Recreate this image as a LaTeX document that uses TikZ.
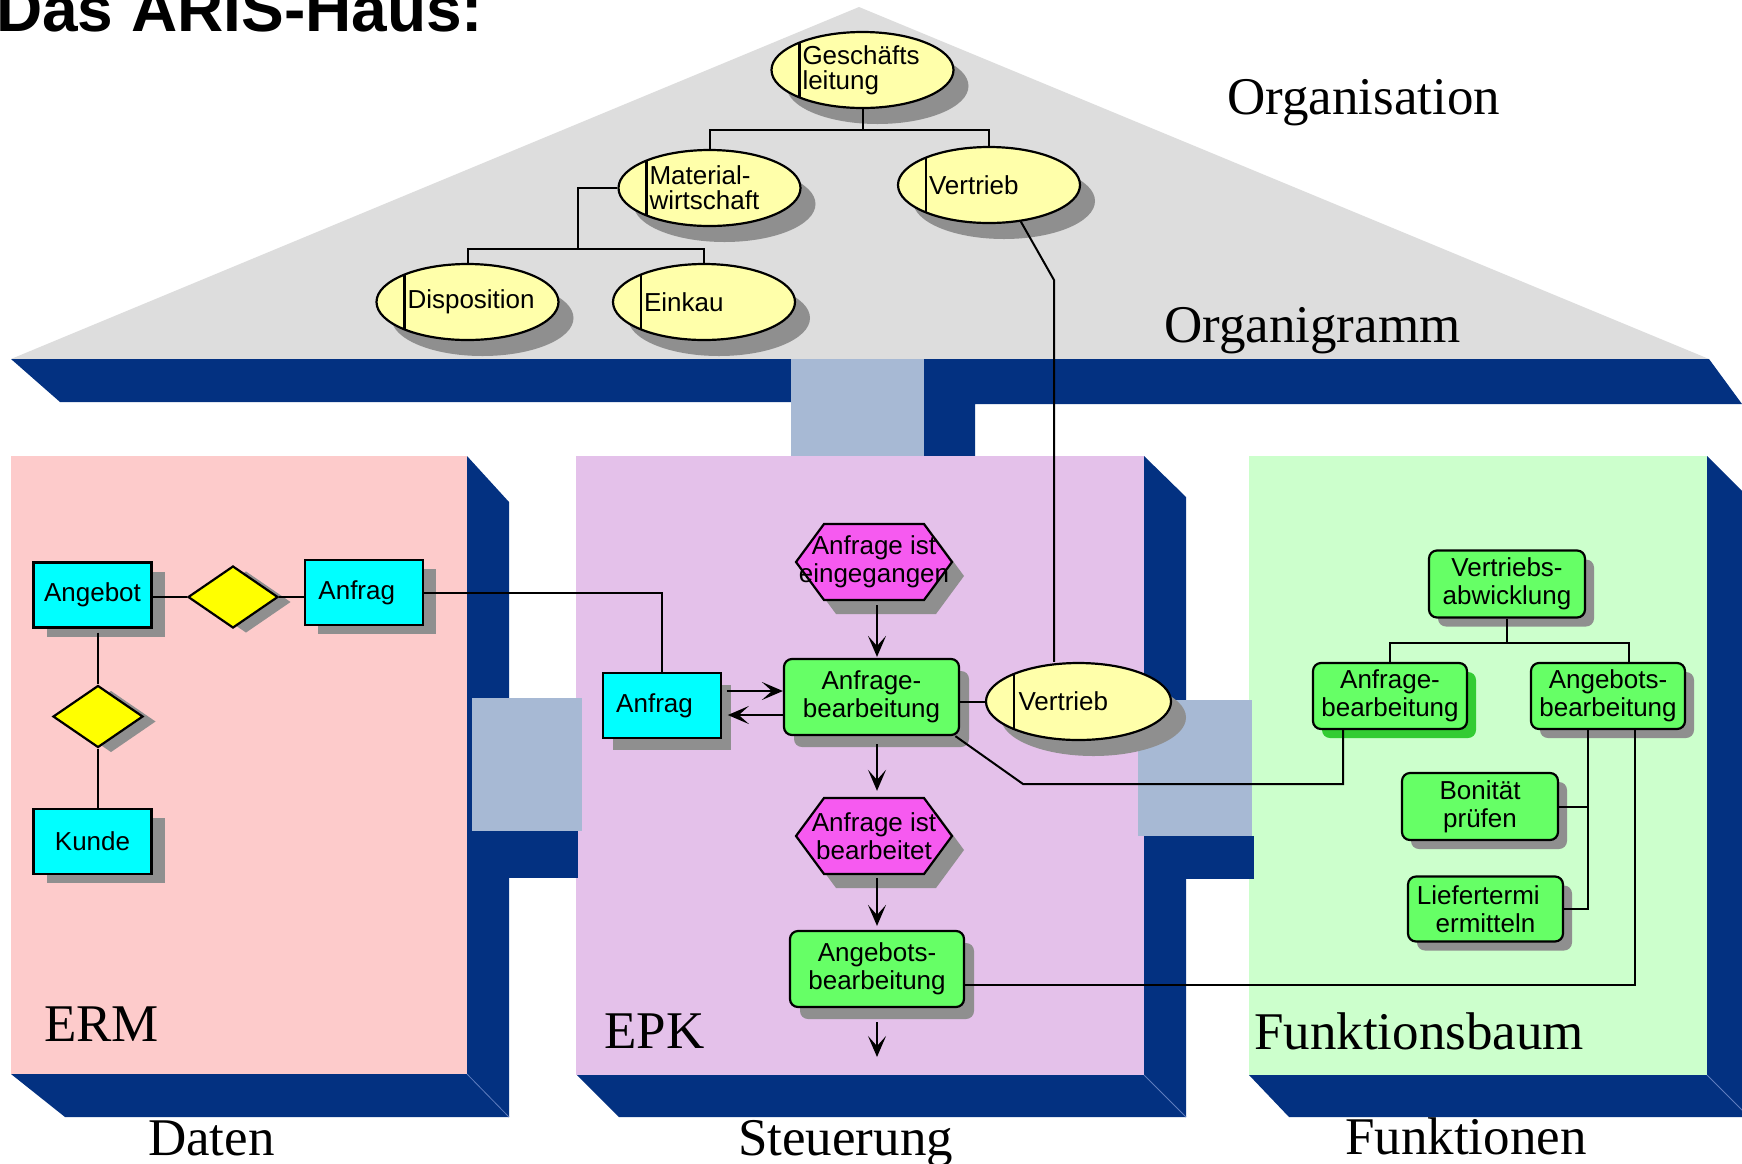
\documentclass[tikz,border=0pt]{standalone}
\usepackage{fontspec}
\setmainfont{Liberation Serif}
\setsansfont{Liberation Sans}
\usetikzlibrary{shapes.geometric,shadows,arrows.meta,calc}

\definecolor{roofgray}{RGB}{221,221,221}
\definecolor{navy}{RGB}{3,49,129}
\definecolor{connblue}{RGB}{167,185,212}
\definecolor{edgeblue}{RGB}{95,125,190}
\definecolor{datapink}{RGB}{253,203,203}
\definecolor{ctrlviolet}{RGB}{228,193,234}
\definecolor{funcmint}{RGB}{204,255,204}
\definecolor{entcyan}{RGB}{0,255,255}
\definecolor{relyellow}{RGB}{255,255,0}
\definecolor{orgyellow}{RGB}{255,255,170}
\definecolor{evmagenta}{RGB}{246,90,240}
\definecolor{fngreen}{RGB}{102,255,102}
\definecolor{shgray}{RGB}{143,143,143}
\definecolor{shgreen}{RGB}{51,204,51}

% event hexagon outline, centred on the origin
\newcommand\hexoutline{(-78,0) -- (-50,-38) -- (50,-38) -- (78,0) -- (50,38) -- (-50,38) -- cycle}

\begin{document}
\begin{tikzpicture}[x=1pt,y=-1pt,
  lbl/.style={font=\rmfamily\fontsize{53}{53}\selectfont, anchor=base west, inner sep=0pt},
  nodefont/.style={font=\sffamily\fontsize{26}{28}\selectfont},
  orgunit/.style={ellipse, draw, line width=2.2pt, fill=orgyellow, inner sep=0pt,
     minimum width=182pt, minimum height=76pt, text width=120pt, align=left,
     font=\sffamily\fontsize{26}{25}\selectfont,
     drop shadow={shadow xshift=15pt, shadow yshift=-16pt, fill=shgray, opacity=1},
     path picture={\draw[line width=2.2pt]
        ([xshift=28pt]path picture bounding box.north west) --
        ([xshift=28pt]path picture bounding box.south west);}},
  entity/.style={rectangle, draw, line width=2.2pt, fill=entcyan, inner sep=0pt,
     minimum width=118pt, minimum height=65pt, nodefont},
  ermshadow/.style={drop shadow={shadow xshift=13pt, shadow yshift=-9pt, fill=shgray, opacity=1}},
  epkshadow/.style={drop shadow={shadow xshift=10pt, shadow yshift=-12pt, fill=shgray, opacity=1}},
  treeshadow/.style={drop shadow={shadow xshift=9pt, shadow yshift=-9pt, fill=#1, opacity=1}},
  treeshadow/.default=shgray,
  relation/.style={diamond, draw, line width=2.2pt, fill=relyellow, inner sep=0pt,
     minimum width=90pt, minimum height=62pt,
     drop shadow={shadow xshift=13pt, shadow yshift=-5pt, fill=shgray, opacity=1}},
  func/.style={rectangle, rounded corners=8pt, draw, line width=2.2pt, fill=fngreen,
     inner sep=0pt, align=center, nodefont},
  evtext/.style={rectangle, inner sep=0pt, minimum width=156pt, minimum height=76pt,
     align=center, font=\sffamily\fontsize{26}{28}\selectfont},
  link/.style={line width=2pt},
  arr/.style={line width=2pt, -{Stealth[length=21pt,width=18pt,inset=10pt]}}
]
\fill[white] (0,0) rectangle (1742,1163);
\useasboundingbox (0,0) rectangle (1742,1163);

% ---------- roof ----------
\fill[roofgray] (11,359) -- (859,7) -- (1709,359) -- cycle;
\fill[navy] (11,359) -- (1709,359) -- (1742,404) -- (975,404) -- (975,457)
  -- (924,457) -- (924,402) -- (60,402) -- cycle;
\fill[connblue] (791,359) rectangle (924,457);

% ---------- pillars ----------
\fill[navy] (467,456) -- (509,502) -- (509,1117) -- (65,1117) -- (11,1074) -- (467,1074) -- cycle;
\fill[datapink] (11,456) rectangle (467,1074);
\draw[edgeblue, line width=0.8pt] (467,1074) -- (509,1117);

\fill[navy] (1144,456) -- (1186,497) -- (1186,1117) -- (619,1117) -- (577,1075) -- (1144,1075) -- cycle;
\fill[ctrlviolet] (576,456) rectangle (1144,1075);
\draw[edgeblue, line width=0.8pt] (1144,1075) -- (1186,1117);

\fill[navy] (1707,456) -- (1750,499) -- (1750,1117) -- (1289,1117) -- (1249,1075) -- (1707,1075) -- cycle;
\fill[funcmint] (1249,456) rectangle (1707,1075);
\draw[edgeblue, line width=0.8pt] (1707,1075) -- (1750,1118);

% ---------- joints between the pillars ----------
\fill[navy] (509,831) rectangle (578,878);
\fill[connblue] (472,698) rectangle (582,831);
\fill[navy] (1186,836) rectangle (1254,879);
\fill[connblue] (1138,700) rectangle (1252,836);

% ---------- captions ----------
\node[anchor=base west, inner sep=0pt, font=\sffamily\bfseries\fontsize{64}{64}\selectfont]
  (title) at (-4,31.5) {Das ARIS-Haus:};
\node[lbl] (cOrga) at (1227,114) {Organisation};
\node[lbl] (cOrgi) at (1164,342) {Organigramm};
\node[lbl] (cErm) at (44,1041) {ERM};
\node[lbl] (cEpk) at (604,1048) {EPK};
\node[lbl] (cFb) at (1254,1049) {Funktionsbaum};
\node[lbl] (cDat) at (148,1155) {Daten};
\node[lbl] (cSt) at (738,1155) {Steuerung};
\node[lbl] (cFn) at (1345,1154) {Funktionen};

% ---------- organigram ----------
\node[orgunit] (gl) at (862.5,70) {Geschäfts\\leitung};
\node[orgunit] (mw) at (709.5,188) {Material-\\wirtschaft};
\node[orgunit] (vert1) at (989,185) {Vertrieb};
\node[orgunit] (disp) at (467.5,302) {Disposition};
\node[orgunit] (eink) at (704,302) {Einkau};

\coordinate (h1) at (0,130);
\coordinate (h2) at (578,249);
\draw[link] (gl.south) -- (gl.south |- h1);
\draw[link] (mw.north) -- (mw.north |- h1) -- (vert1.north |- h1) -- (vert1.north);
\draw[link] (mw.west) -| (h2);
\draw[link] (disp.north) -- (disp.north |- h2) -- (eink.north |- h2) -- (eink.north);

% ---------- ERM ----------
\node[entity, ermshadow] (ang) at (92.5,595) {Angebot};
\node[entity, ermshadow] (anfE) at (364,592.5) {Anfrag\phantom{e}};
\node[entity, ermshadow] (kun) at (92.5,841.5) {Kunde};
\node[relation] (d1) at (233,597) {};
\node[relation] (d2) at (98,716.5) {};
\draw[link] (ang.east |- d1.west) -- (d1.west);
\draw[link] (d1.east) -- (anfE.west |- d1.east);
\draw[link, shorten <=4pt] (ang.south -| d2.north) -- (d2.north);
\draw[link] (d2.south) -- (kun.north -| d2.south);

% ---------- EPK ----------
\begin{scope}[shift={(874,562)}]
  \fill[shgray, shift={(12,14)}] \hexoutline;
  \filldraw[fill=evmagenta, line width=2.2pt] \hexoutline;
\end{scope}
\begin{scope}[shift={(874,836)}]
  \fill[shgray, shift={(12,14)}] \hexoutline;
  \filldraw[fill=evmagenta, line width=2.2pt] \hexoutline;
\end{scope}
\node[evtext] (ev1) at (874,562) {Anfrage ist\\eingegangen};
\node[evtext] (ev2) at (874,836) {Anfrage ist\\bearbeitet};

\node[func, epkshadow, minimum width=175pt, minimum height=76pt] (fn1) at (871.5,697) {Anfrage-\\bearbeitung};
\node[func, epkshadow, minimum width=174pt, minimum height=76pt] (fn2) at (877,969) {Angebots-\\bearbeitung};
\node[entity, epkshadow] (anfP) at (661.75,705.5) {Anfrag\phantom{e}};
\node[orgunit, minimum width=185pt, minimum height=77pt] (vert2) at (1078.5,701.5) {Vertrieb};

\coordinate (col) at (877,0);
\coordinate (out) at (877,1057);
\draw[arr, shorten <=5pt, shorten >=1pt] (ev1.south -| col) -- (fn1.north -| col);
\draw[arr, shorten <=8pt, shorten >=7pt] (fn1.south -| col) -- (ev2.north -| col);
\draw[arr, shorten <=4pt, shorten >=4pt] (ev2.south -| col) -- (fn2.north -| col);
\draw[arr, shorten <=14pt] (fn2.south -| col) -- (out);

\coordinate (r1) at (0,691);
\coordinate (r2) at (0,715);
\draw[arr, shorten <=5pt] (anfP.east |- r1) -- (fn1.west |- r1);
\draw[arr, shorten >=6pt] (fn1.west |- r2) -- (anfP.east |- r2);
\draw[link] (fn1.east |- vert2.west) -- (vert2.west);
\draw[link] (anfE.east) -| (anfP.north);

% organisational unit assigned to the function
\coordinate (vb) at (1054,280);
\draw[link] (vert1.-49) -- (vb) -- (vert2.north -| vb);

% ---------- function tree ----------
\node[func, treeshadow, minimum width=156pt, minimum height=67pt] (va) at (1507,584) {Vertriebs-\\abwicklung};
\node[func, treeshadow=shgreen, minimum width=154pt, minimum height=66pt] (anf) at (1390,696) {Anfrage-\\bearbeitung};
\node[func, treeshadow, minimum width=154pt, minimum height=66pt] (agb) at (1608,696) {Angebots-\\bearbeitung};
\node[func, treeshadow, minimum width=156pt, minimum height=67pt] (bon) at (1480,806.5) {Bonität\\prüfen};
\node[func, treeshadow, minimum width=155pt, minimum height=65pt] (lief) at (1485.5,909) {Liefertermi\phantom{n}\\ermitteln};

\coordinate (h3) at (0,643);
\coordinate (c2) at (1629,0);
\draw[link] (va.south) -- (va.south |- h3);
\draw[link] (anf.north) |- (h3 -| c2) -- (agb.north -| c2);
\coordinate (v1) at (1588,0);
\draw[link] (agb.south -| v1) |- (lief.east);
\draw[link] (bon.east) -- (bon.east -| v1);

% links between the views
\coordinate (k) at (1635,985);
\draw[link] (agb.south -| k) -- (k) -- (fn2.east |- k);
\coordinate (m1) at (1023,784);
\coordinate (m2) at (1343,784);
\draw[link] (fn1.-25) -- (m1) -- (m2) -- (anf.south -| m2);
\end{tikzpicture}
\end{document}
